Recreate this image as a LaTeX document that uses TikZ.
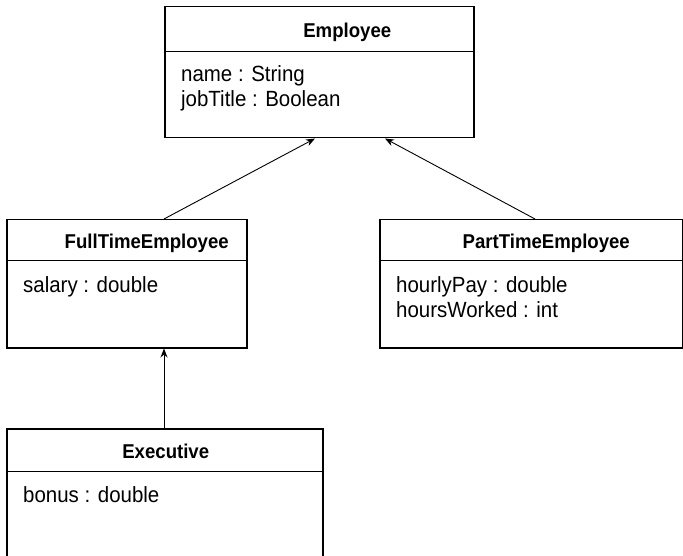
\documentclass[tikz,border=0pt]{standalone}
\usepackage{fontspec}
\setmainfont{Liberation Sans}[FakeStretch=0.93]
\usetikzlibrary{arrows.meta,calc}
\begin{document}
\begin{tikzpicture}[x=1pt,y=-1pt,
  classbox/.style={draw,line width=1.5pt,anchor=north west,inner sep=0pt},
  divider/.style={line width=1pt},
  ttl/.style={anchor=base,inner sep=0pt,font=\bfseries\fontsize{20}{24}\selectfont},
  attr/.style={anchor=base west,inner sep=0pt,font=\fontsize{22}{26}\selectfont},
  gen/.style={line width=0.9pt,-{Stealth[length=9pt,width=7pt]}}]
\useasboundingbox (0,0) rectangle (683,556);
\clip (0,0) rectangle (683,556);
% Employee
\node[classbox,minimum width=309pt,minimum height=131pt] (emp) at (164,6) {};
\draw[divider] ($(emp.north west)+(0,46)$) -- ($(emp.north east)+(0,46)$);
\node[ttl] (empT) at ($(emp.north)+(28,32)$) {Employee};
\node[attr] (empA1) at ($(emp.north west)+(17,76)$) {name : String};
\node[attr] (empA2) at ($(emp.north west)+(17,101)$) {jobTitle : Boolean};
% FullTimeEmployee
\node[classbox,minimum width=240pt,minimum height=128pt] (ft) at (6,219) {};
\draw[divider] ($(ft.north west)+(0,42)$) -- ($(ft.north east)+(0,42)$);
\node[ttl] (ftT) at ($(ft.north)+(20,30)$) {FullTimeEmployee};
\node[attr] (ftA1) at ($(ft.north west)+(17,73)$) {salary : double};
% PartTimeEmployee
\node[classbox,minimum width=303pt,minimum height=128pt] (pt) at (379,219) {};
\draw[divider] ($(pt.north west)+(0,42)$) -- ($(pt.north east)+(0,42)$);
\node[ttl] (ptT) at ($(pt.north)+(15,30)$) {PartTimeEmployee};
\node[attr] (ptA1) at ($(pt.north west)+(17,73)$) {hourlyPay : double};
\node[attr] (ptA2) at ($(pt.north west)+(17,98)$) {hoursWorked : int};
% Executive
\node[classbox,minimum width=316pt,minimum height=180pt] (ex) at (6,428) {};
\draw[divider] ($(ex.north west)+(0,43)$) -- ($(ex.north east)+(0,43)$);
\node[ttl] (exT) at ($(ex.north)+(1,30)$) {Executive};
\node[attr] (exA1) at ($(ex.north west)+(17,74)$) {bonus : double};
% connector endpoints
\coordinate (ftTop) at ($(ft.north west)+(158,0)$);
\coordinate (ftBot) at ($(ft.south west)+(158,0)$);
\coordinate (ptTop) at ($(pt.north west)+(156,0)$);
\coordinate (empL) at ($(emp.south west)+(151,0)$);
\coordinate (empR) at ($(emp.south west)+(221,0)$);
\coordinate (exTop) at ($(ex.north west)+(158,0)$);
\draw[gen] (ftTop) -- (empL);
\draw[gen] (ptTop) -- (empR);
\draw[gen] (exTop) -- (ftBot);
\end{tikzpicture}
\end{document}
